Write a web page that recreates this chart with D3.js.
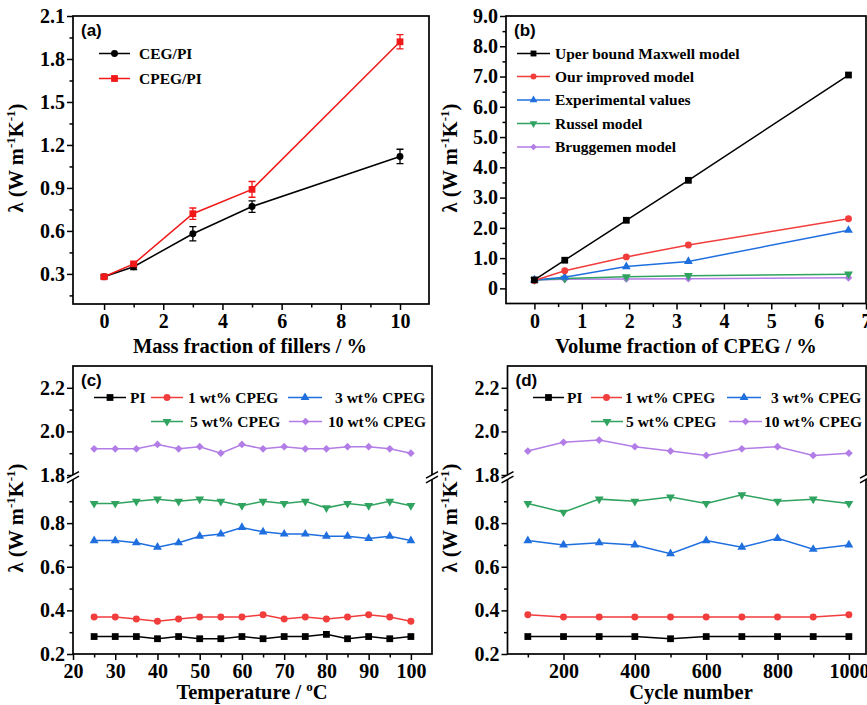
<!DOCTYPE html>
<html>
<head>
<meta charset="utf-8">
<script src="https://cdn.jsdelivr.net/npm/d3@7"></script>
<style>
  body { margin: 0; background: #fff; }
  svg { display: block; }
</style>
</head>
<body>
<svg id="fig" width="867" height="705"></svg>
<script>
// ---- (a) mass fraction ----
const massFrac = [0, 1, 3, 5, 10];
const cegPI = [0.28, 0.35, 0.58, 0.77, 1.12];
const cegErr = [0.015, 0.02, 0.05, 0.04, 0.05];
const cpegPI = [0.28, 0.37, 0.72, 0.89, 1.92];
const cpegErr = [0.01, 0.015, 0.04, 0.055, 0.05];

// ---- (b) volume fraction / models ----
const volFrac = [0, 0.64, 1.94, 3.25, 6.63];
const maxwell = [0.28, 0.93, 2.25, 3.57, 7.05];
const improved = [0.26, 0.58, 1.04, 1.43, 2.30];
const experimental = [0.28, 0.37, 0.72, 0.89, 1.92];
const russel = [0.28, 0.33, 0.38, 0.42, 0.47];
const bruggemen = [0.28, 0.30, 0.31, 0.32, 0.35];

// ---- (c) temperature ----
const temps = [25, 30, 35, 40, 45, 50, 55, 60, 65, 70, 75, 80, 85, 90, 95, 100];
const tPI   = [0.28, 0.28, 0.28, 0.27, 0.28, 0.27, 0.27, 0.28, 0.27, 0.28, 0.28, 0.29, 0.27, 0.28, 0.27, 0.28];
const t1wt  = [0.37, 0.37, 0.36, 0.35, 0.36, 0.37, 0.37, 0.37, 0.38, 0.36, 0.37, 0.36, 0.37, 0.38, 0.37, 0.35];
const t3wt  = [0.72, 0.72, 0.71, 0.69, 0.71, 0.74, 0.75, 0.78, 0.76, 0.75, 0.75, 0.74, 0.74, 0.73, 0.74, 0.72];
const t5wt  = [0.89, 0.89, 0.90, 0.91, 0.90, 0.91, 0.90, 0.88, 0.90, 0.89, 0.90, 0.87, 0.89, 0.88, 0.90, 0.88];
const t10wt = [1.92, 1.92, 1.92, 1.94, 1.92, 1.93, 1.90, 1.94, 1.92, 1.93, 1.92, 1.92, 1.93, 1.93, 1.92, 1.90];

// ---- (d) cycles ----
const cycles = [100, 200, 300, 400, 500, 600, 700, 800, 900, 1000];
const cPI   = [0.28, 0.28, 0.28, 0.28, 0.27, 0.28, 0.28, 0.28, 0.28, 0.28];
const c1wt  = [0.38, 0.37, 0.37, 0.37, 0.37, 0.37, 0.37, 0.37, 0.37, 0.38];
const c3wt  = [0.72, 0.70, 0.71, 0.70, 0.66, 0.72, 0.69, 0.73, 0.68, 0.70];
const c5wt  = [0.89, 0.85, 0.91, 0.90, 0.92, 0.89, 0.93, 0.90, 0.91, 0.89];
const c10wt = [1.91, 1.95, 1.96, 1.93, 1.91, 1.89, 1.92, 1.93, 1.89, 1.90];

const seriesNames = ['PI', '1 wt% CPEG', '3 wt% CPEG', '5 wt% CPEG', '10 wt% CPEG'];
const modelNames = ['Uper bound Maxwell model', 'Our improved model', 'Experimental values', 'Russel model', 'Bruggemen model'];

const BLACK = '#000', RED = '#f23d3d', RED_A = '#f01818', BLUE = '#1f6fdf', GREEN = '#2fa35f', PURPLE = '#b27de6';
const SERIF = "'Liberation Serif','Times New Roman',serif";

const svg = d3.select('#fig');

// marker shapes
const shapes = {
  square:  {type: d3.symbolSquare, size: 46, rot: 0},
  circle:  {type: d3.symbolCircle, size: 38, rot: 0},
  tri:     {type: d3.symbolTriangle, size: 34, rot: 0},
  triDown: {type: d3.symbolTriangle, size: 34, rot: 180},
  diamond: {type: d3.symbolSquare, size: 30, rot: 45}
};

function marker(g, shape, cx, cy, color, k) {
  const s = shapes[shape];
  g.append('path')
    .attr('d', d3.symbol().type(s.type).size(s.size * (k || 1))())
    .attr('transform', `translate(${cx},${cy}) rotate(${s.rot})`)
    .attr('fill', color);
}

function series(g, xs, ys, x, y, color, shape) {
  const pts = xs.map((v, i) => [x(v), y(ys[i])]);
  g.append('path')
    .attr('d', d3.line()(pts))
    .attr('fill', 'none').attr('stroke', color).attr('stroke-width', 1.5);
  pts.forEach(p => marker(g, shape, p[0], p[1], color));
}

function styleAxis(g) {
  g.select('.domain').remove();
  g.attr('font-family', SERIF).attr('font-size', 20).attr('font-weight', 'bold');
  g.selectAll('line').attr('stroke', '#000').attr('stroke-width', 1.5);
  g.selectAll('text').attr('fill', '#000');
}

function xAxis(p, x, major, minor, fmt) {
  const g = svg.append('g').attr('transform', `translate(0,${p.y1})`);
  g.call(d3.axisBottom(x).tickValues(major).tickSize(6).tickPadding(4).tickFormat(fmt));
  styleAxis(g);
  const m = svg.append('g').attr('transform', `translate(0,${p.y1})`);
  m.call(d3.axisBottom(x).tickValues(minor).tickSize(3.5).tickFormat(''));
  styleAxis(m);
}

function yAxis(p, y, major, minor, fmt) {
  const g = svg.append('g').attr('transform', `translate(${p.x0},0)`);
  g.call(d3.axisLeft(y).tickValues(major).tickSize(6).tickPadding(2).tickFormat(fmt));
  styleAxis(g);
  const m = svg.append('g').attr('transform', `translate(${p.x0},0)`);
  m.call(d3.axisLeft(y).tickValues(minor).tickSize(3.5).tickFormat(''));
  styleAxis(m);
}

function frame(p) {
  svg.append('rect')
    .attr('x', p.x0).attr('y', p.y0)
    .attr('width', p.x1 - p.x0).attr('height', p.y1 - p.y0)
    .attr('fill', 'none').attr('stroke', '#000').attr('stroke-width', 1.7);
}

function panelTag(p, label) {
  svg.append('text')
    .attr('x', p.x0 + 8).attr('y', p.y0 + 20)
    .attr('font-family', "'Liberation Sans',Arial,sans-serif")
    .attr('font-weight', 'bold').attr('font-size', 17)
    .text(label);
}

function yTitle(cx, cy) {
  const t = svg.append('text')
    .attr('transform', `translate(${cx},${cy}) rotate(-90)`)
    .attr('text-anchor', 'middle')
    .attr('font-family', SERIF).attr('font-weight', 'bold').attr('font-size', 20.5);
  t.append('tspan').text('λ (W m');
  t.append('tspan').attr('font-size', 13).attr('dy', -8).text('-1');
  t.append('tspan').attr('dy', 8).text('K');
  t.append('tspan').attr('font-size', 13).attr('dy', -8).text('-1');
  t.append('tspan').attr('dy', 8).text(')');
}

// parts: plain strings, or {sup: '...'} for a superscript piece
function xTitle(cx, cy, parts) {
  const t = svg.append('text')
    .attr('x', cx).attr('y', cy).attr('text-anchor', 'middle')
    .attr('font-family', SERIF).attr('font-weight', 'bold').attr('font-size', 20.5);
  let raised = false;
  parts.forEach(part => {
    if (typeof part === 'object') {
      t.append('tspan').attr('font-size', 13).attr('dy', -8).text(part.sup);
      raised = true;
    } else {
      t.append('tspan').attr('dy', raised ? 8 : 0).text(part);
      raised = false;
    }
  });
}

function legendItem(x1, x2, tx, y, color, shape, label, k) {
  const g = svg.append('g');
  g.append('line').attr('x1', x1).attr('x2', x2).attr('y1', y).attr('y2', y)
    .attr('stroke', color).attr('stroke-width', 1.5);
  marker(g, shape, (x1 + x2) / 2, y, color, k);
  g.append('text').attr('x', tx).attr('y', y).attr('dy', '0.35em')
    .attr('font-family', SERIF).attr('font-weight', 'bold').attr('font-size', 15.5)
    .attr('fill', '#000').text(label);
}

function breakMark(x, yc) {
  svg.append('path')
    .attr('d', `M${x - 6},${yc + 1.3} L${x + 6},${yc - 5.3} L${x + 6},${yc - 0.7} L${x - 6},${yc + 5.9} Z`)
    .attr('fill', '#fff');
  [-0.8, 3.8].forEach(o => {
    svg.append('line')
      .attr('x1', x - 6).attr('y1', yc + 2 + o)
      .attr('x2', x + 6).attr('y2', yc - 4.6 + o)
      .attr('stroke', '#000').attr('stroke-width', 1.5);
  });
}

// ================= (a) =================
{
  const p = {x0: 73, x1: 429, y0: 16, y1: 304};
  const x = d3.scaleLinear().domain([-1.05, 10.98]).range([p.x0, p.x1]);
  const y = d3.scaleLinear().domain([0.09, 2.1]).range([p.y1, p.y0]);
  const g = svg.append('g');
  // error bars
  [[cegPI, cegErr, BLACK], [cpegPI, cpegErr, RED_A]].forEach(([vals, errs, col]) => {
    massFrac.forEach((m, i) => {
      const cx = x(m), lo = y(vals[i] - errs[i]), hi = y(vals[i] + errs[i]);
      g.append('path')
        .attr('d', `M${cx},${lo}V${hi}M${cx - 3.5},${lo}H${cx + 3.5}M${cx - 3.5},${hi}H${cx + 3.5}`)
        .attr('stroke', col).attr('stroke-width', 1.3).attr('fill', 'none');
    });
  });
  series(g, massFrac, cegPI, x, y, BLACK, 'circle');
  series(g, massFrac, cpegPI, x, y, RED_A, 'square');
  frame(p);
  xAxis(p, x, [0, 2, 4, 6, 8, 10], [1, 3, 5, 7, 9], d3.format('d'));
  yAxis(p, y, [0.3, 0.6, 0.9, 1.2, 1.5, 1.8, 2.1], [0.15, 0.45, 0.75, 1.05, 1.35, 1.65, 1.95], d3.format('.1f'));
  panelTag(p, '(a)');
  legendItem(99, 130, 139, 53.5, BLACK, 'circle', 'CEG/PI');
  legendItem(99, 130, 139, 78.5, RED_A, 'square', 'CPEG/PI');
  yTitle(23, 158);
  xTitle(250, 353, ['Mass fraction of fillers / %']);
}

// ================= (b) =================
{
  const p = {x0: 506, x1: 866, y0: 16, y1: 303.5};
  const x = d3.scaleLinear().domain([-0.6, 7.0]).range([p.x0, p.x1]);
  const y = d3.scaleLinear().domain([-0.5, 9.0]).range([p.y1, p.y0]);
  const g = svg.append('g');
  const models = [maxwell, improved, experimental, russel, bruggemen];
  const cols = [BLACK, RED, BLUE, GREEN, PURPLE];
  const shp = ['square', 'circle', 'tri', 'triDown', 'diamond'];
  [4, 3, 2, 1, 0].forEach(i => series(g, volFrac, models[i], x, y, cols[i], shp[i]));
  frame(p);
  xAxis(p, x, [0, 1, 2, 3, 4, 5, 6, 7], [0.5, 1.5, 2.5, 3.5, 4.5, 5.5, 6.5], d3.format('d'));
  yAxis(p, y, d3.range(0, 10), d3.range(0.5, 9, 1), v => v === 0 ? '0' : d3.format('.1f')(v));
  panelTag(p, '(b)');
  const ly = [53.5, 76.5, 100, 123.5, 147];
  modelNames.forEach((n, i) => legendItem(517, 550, 555, ly[i], cols[i], shp[i], n, 0.75));
  yTitle(457, 158);
  xTitle(686, 353, ['Volume fraction of CPEG / %']);
}

// ---- broken axis panels (c) and (d) ----
function brokenPanel(p, xDomain, xMajor, xMinor, xs, data, legendPos) {
  const x = d3.scaleLinear().domain(xDomain).range([p.x0, p.x1]);
  const yUp = d3.scaleLinear().domain([1.8, 2.3]).range([475, p.y0]);
  const yLo = d3.scaleLinear().domain([0.2, 1.0]).range([p.y1, 479.5]);
  const cols = [BLACK, RED, BLUE, GREEN, PURPLE];
  const shp = ['square', 'circle', 'tri', 'triDown', 'diamond'];
  const g = svg.append('g');
  data.forEach((vals, i) => {
    const y = d3.max(vals) > 1.4 ? yUp : yLo;
    series(g, xs, vals, x, y, cols[i], shp[i]);
  });
  frame(p);
  xAxis(p, x, xMajor, xMinor, d3.format('d'));
  yAxis(p, yUp, [1.8, 2.0, 2.2], [1.9, 2.1], d3.format('.1f'));
  yAxis(p, yLo, [0.2, 0.4, 0.6, 0.8], [0.3, 0.5, 0.7, 0.9], d3.format('.1f'));
  breakMark(p.x0, 477);
  breakMark(p.x1, 477);
  seriesNames.forEach((n, i) => {
    const l = legendPos[i];
    legendItem(l[0], l[1], l[2], l[3], cols[i], shp[i], n);
  });
}

// ================= (c) =================
{
  const p = {x0: 73, x1: 432, y0: 366, y1: 654};
  brokenPanel(p, [20, 105], d3.range(20, 101, 10), d3.range(25, 100, 10), temps,
    [tPI, t1wt, t3wt, t5wt, t10wt],
    [[94, 126, 130, 397.5], [151, 183, 188, 397.5], [288, 322, 335, 397.5],
     [151, 183, 190, 421.5], [289, 322, 328, 421.5]]);
  panelTag(p, '(c)');
  yTitle(23, 518);
  xTitle(252, 699, ['Temperature / ', {sup: 'o'}, 'C']);
}

// ================= (d) =================
{
  const p = {x0: 507.5, x1: 866, y0: 366, y1: 654};
  brokenPanel(p, [43, 1048], [200, 400, 600, 800, 1000], [100, 300, 500, 700, 900], cycles,
    [cPI, c1wt, c3wt, c5wt, c10wt],
    [[533, 564, 567, 397.5], [591, 622, 625, 397.5], [727, 761, 771, 397.5],
     [591, 623, 626, 421.5], [729, 762, 764, 421.5]]);
  panelTag(p, '(d)');
  yTitle(457, 518);
  xTitle(691, 699, ['Cycle number']);
}
</script>
</body>
</html>
